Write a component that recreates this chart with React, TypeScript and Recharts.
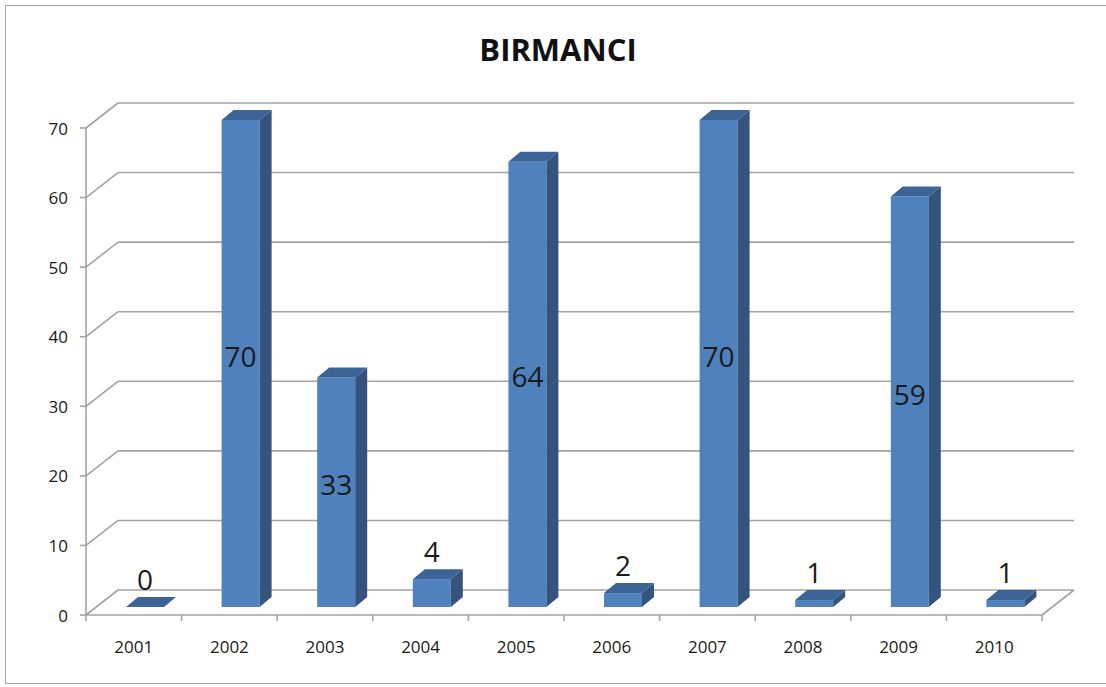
import React from "react";
import { BarChart, Bar, XAxis, YAxis, CartesianGrid } from "recharts";

const years = ["2001", "2002", "2003", "2004", "2005", "2006", "2007", "2008", "2009", "2010"];
const counts = [0, 70, 33, 4, 64, 2, 70, 1, 59, 1];
const yTicks = [0, 10, 20, 30, 40, 50, 60, 70];
const title = "BIRMANCI";

const data = years.map((y, i) => ({ year: y, value: counts[i] }));

const W = 1106;
const H = 687;
const PLOT_LEFT = 86;
const PLOT_RIGHT = 1042;
const PLOT_TOP = 128;
const PLOT_BOTTOM = 615;
const BACK_DX = 32;
const BACK_DY = -25;
const BAR_DX = 11;
const BAR_DY = -8;
const DEPTH_DX = 12;
const DEPTH_DY = -10;
const BAND = (PLOT_RIGHT - PLOT_LEFT) / years.length;
const GRID = "#a3a3a3";
const FONT = "'Open Sans', 'Noto Sans', sans-serif";

const GridLine = (props: any) => {
  const { x1, y1, x2, index } = props;
  const bx1 = x1 + BACK_DX;
  const by = y1 + BACK_DY;
  const bx2 = x2 + BACK_DX;
  const isFloor = Math.abs(y1 - PLOT_BOTTOM) < 1;
  return (
    <g key={`g-${index}`}>
      <line x1={x1} y1={y1} x2={bx1} y2={by} stroke={GRID} strokeWidth={1.6} />
      <line x1={bx1} y1={by} x2={bx2} y2={by} stroke={GRID} strokeWidth={1.6} />
      {isFloor && (
        <line x1={x2} y1={y1} x2={bx2} y2={by} stroke={GRID} strokeWidth={1.6} />
      )}
    </g>
  );
};

const Bar3D = (props: any) => {
  const { x, y, width, height, value } = props;
  const fx = x + BAR_DX;
  const fy = y + BAR_DY;
  const w = width;
  const h = Math.max(0, height);
  const side = `${fx + w},${fy} ${fx + w + DEPTH_DX},${fy + DEPTH_DY} ${fx + w + DEPTH_DX},${fy + h + DEPTH_DY} ${fx + w},${fy + h}`;
  const top = `${fx},${fy} ${fx + DEPTH_DX},${fy + DEPTH_DY} ${fx + w + DEPTH_DX},${fy + DEPTH_DY} ${fx + w},${fy}`;
  const big = value >= 10;
  const ly = big ? fy + h / 2 - 8 : fy - 28;
  return (
    <g>
      {h > 0 && <rect x={fx} y={fy} width={w} height={h} fill="#4F81BD" />}
      {h > 0 && <polygon points={side} fill="#34547E" />}
      <polygon points={top} fill="#3C6496" />
      <text
        x={fx + w / 2}
        y={ly}
        textAnchor="middle"
        dominantBaseline="central"
        fontFamily={FONT}
        fontSize={28}
        fill="#1a1a1a"
      >
        {value}
      </text>
    </g>
  );
};

const XTick = (props: any) => {
  const { x, y, payload, index } = props;
  const left = x - BAND / 2;
  const right = x + BAND / 2;
  return (
    <g>
      <line x1={left} y1={PLOT_BOTTOM} x2={left} y2={PLOT_BOTTOM + 6} stroke={GRID} strokeWidth={1.6} />
      {index === years.length - 1 && (
        <line x1={right} y1={PLOT_BOTTOM} x2={right} y2={PLOT_BOTTOM + 6} stroke={GRID} strokeWidth={1.6} />
      )}
      <text
        x={x}
        y={y + 30}
        textAnchor="middle"
        fontFamily={FONT}
        fontSize={17}
        fill="#1a1a1a"
      >
        {payload.value}
      </text>
    </g>
  );
};

const YTick = (props: any) => {
  const { y, payload } = props;
  return (
    <text
      x={68}
      y={y}
      textAnchor="end"
      dominantBaseline="central"
      fontFamily={FONT}
      fontSize={17}
      fill="#1a1a1a"
    >
      {payload.value}
    </text>
  );
};

export default function App() {
  return (
    <div style={{ position: "absolute", left: 0, top: 0, width: W, height: H, background: "#fff", overflow: "hidden" }}>
      <div
        style={{
          position: "absolute",
          left: 5,
          top: 5,
          width: 1120,
          height: 679,
          border: "1.5px solid #a8a8a8",
          boxSizing: "border-box",
        }}
      />
      <div
        style={{
          position: "absolute",
          left: 0,
          top: 27,
          width: 1116,
          textAlign: "center",
          fontFamily: FONT,
          fontWeight: 700,
          fontSize: 31,
          color: "#111",
          lineHeight: "44px",
        }}
      >
        {title}
      </div>
      <div style={{ position: "absolute", left: 0, top: 0 }}>
        <BarChart
          width={W}
          height={H}
          data={data}
          margin={{ top: PLOT_TOP, bottom: H - PLOT_BOTTOM - 40, left: PLOT_LEFT - 60, right: W - PLOT_RIGHT }}
          barSize={38}
        >
          <CartesianGrid vertical={false} horizontal={GridLine as any} stroke={GRID} />
          <XAxis
            dataKey="year"
            height={40}
            axisLine={{ stroke: GRID, strokeWidth: 1.6 }}
            tickLine={false}
            tick={<XTick />}
            interval={0}
          />
          <YAxis
            width={60}
            domain={[0, 70]}
            ticks={yTicks}
            interval={0}
            axisLine={{ stroke: GRID, strokeWidth: 1.6 }}
            tickLine={{ stroke: GRID, strokeWidth: 1.6 }}
            tickSize={6}
            tick={<YTick />}
          />
          <Bar dataKey="value" shape={<Bar3D />} isAnimationActive={false} />
        </BarChart>
      </div>
    </div>
  );
}
